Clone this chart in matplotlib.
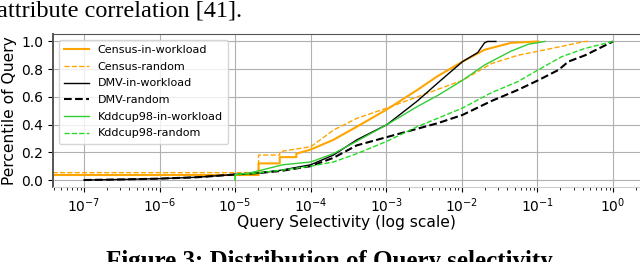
import matplotlib
matplotlib.use("Agg")
import matplotlib.pyplot as plt
import numpy as np

# Data (log10 of selectivity, percentile)
census_in_logx = [-8.0, -4.69, -4.69, -4.41, -4.41, -4.19, -4.19, -4.0, -3.70, -3.39, -2.99, -2.59, -2.32, -1.99, -1.70, -1.35, -0.99]
census_in_y    = [0.036, 0.036, 0.12, 0.12, 0.165, 0.165, 0.19, 0.22, 0.29, 0.385, 0.51, 0.65, 0.75, 0.855, 0.94, 0.99, 1.0]

census_rd_logx = [-8.0, -4.69, -4.69, -4.41, -4.41, -4.0, -3.70, -3.39, -2.99, -2.59, -1.99, -1.61, -1.26, -0.81, -0.37, -0.33]
census_rd_y    = [0.053, 0.053, 0.18, 0.18, 0.205, 0.24, 0.36, 0.445, 0.52, 0.60, 0.72, 0.84, 0.90, 0.95, 1.0, 1.0]

dmv_in_logx = [-7.0, -6.5, -6.0, -5.5, -5.0, -4.7, -4.4, -4.0, -3.70, -3.39, -2.99, -2.59, -2.32, -2.15, -1.99, -1.79, -1.70, -1.66, -1.55]
dmv_in_y    = [0.0, 0.004, 0.01, 0.02, 0.04, 0.05, 0.07, 0.11, 0.18, 0.29, 0.40, 0.57, 0.70, 0.78, 0.855, 0.92, 0.99, 1.0, 1.0]

dmv_rd_logx = [-7.0, -6.5, -6.0, -5.5, -5.0, -4.7, -4.4, -4.0, -3.70, -3.39, -2.99, -2.59, -2.32, -1.99, -1.61, -1.26, -0.99, -0.72, -0.59, -0.37, 0.0]
dmv_rd_y    = [0.0, 0.004, 0.01, 0.02, 0.04, 0.05, 0.065, 0.10, 0.16, 0.25, 0.31, 0.37, 0.41, 0.47, 0.57, 0.65, 0.72, 0.795, 0.855, 0.90, 1.0]

kdd_in_logx = [-5.0, -5.0, -4.81, -4.37, -4.0, -3.70, -3.39, -2.99, -2.59, -2.32, -1.99, -1.70, -1.35, -1.12, -0.90]
kdd_in_y    = [0.0, 0.04, 0.05, 0.11, 0.13, 0.19, 0.28, 0.40, 0.53, 0.61, 0.72, 0.83, 0.93, 0.98, 1.0]

kdd_rd_logx = [-5.0, -5.0, -4.81, -4.4, -4.0, -3.70, -3.39, -2.99, -2.59, -2.32, -1.99, -1.61, -1.26, -0.99, -0.68, -0.37, 0.0]
kdd_rd_y    = [0.0, 0.04, 0.045, 0.07, 0.10, 0.13, 0.19, 0.28, 0.385, 0.445, 0.52, 0.63, 0.71, 0.795, 0.89, 0.95, 1.0]

series = [
    ("Census-in-workload", census_in_logx, census_in_y, "#ffa500", "-", 1.5),
    ("Census-random", census_rd_logx, census_rd_y, "#ffa500", "--", 1.0),
    ("DMV-in-workload", dmv_in_logx, dmv_in_y, "black", "-", 1.0),
    ("DMV-random", dmv_rd_logx, dmv_rd_y, "black", "--", 1.5),
    ("Kddcup98-in-workload", kdd_in_logx, kdd_in_y, "#33cc33", "-", 1.0),
    ("Kddcup98-random", kdd_rd_logx, kdd_rd_y, "#22dd22", "--", 1.0),
]

fig = plt.figure(figsize=(6.4, 2.62), dpi=100)
ax = fig.add_axes([0.0828, 0.2844, 0.9172, 0.5859])

for label, lx, y, c, ls, lw in series:
    ax.plot(10 ** np.array(lx), y, color=c, linestyle=ls, linewidth=lw, label=label)

ax.set_xscale("log")
ax.set_xlim(10 ** -7.41, 10 ** 0.357)
ax.set_ylim(-0.054, 1.054)
ax.set_yticks([0.0, 0.2, 0.4, 0.6, 0.8, 1.0])
ax.set_xticks([10.0 ** k for k in range(-7, 1)])
ax.grid(True, which="major", color="#b0b0b0", linewidth=0.8)
ax.tick_params(axis="both", labelsize=10)
ax.tick_params(axis="x", pad=3)
ax.spines["right"].set_visible(False)
ax.spines["top"].set_color("#555555")
ax.spines["left"].set_color("#555555")
ax.spines["left"].set_linewidth(1.4)
ax.spines["bottom"].set_color("#cccccc")

ax.set_xlabel("Query Selectivity (log scale)", fontsize=11.2, family="DejaVu Sans", labelpad=0)
ax.set_ylabel("Percentile of Query", fontsize=11.2, family="DejaVu Sans", labelpad=3)

ax.legend(loc="upper left", fontsize=8, frameon=True, borderpad=0.5,
          labelspacing=0.6, handlelength=2.2, bbox_to_anchor=(0.0, 1.0))

fig.text(-0.004, 1.0, "attribute correlation [41].", fontsize=17.5, family="Liberation Serif",
         va="top", ha="left")
fig.text(0.515, 0.046, "Figure 3: Distribution of Query selectivity", fontsize=18,
         family="Liberation Serif", weight="bold", va="top", ha="center")

fig.savefig("out.png", dpi=100)
